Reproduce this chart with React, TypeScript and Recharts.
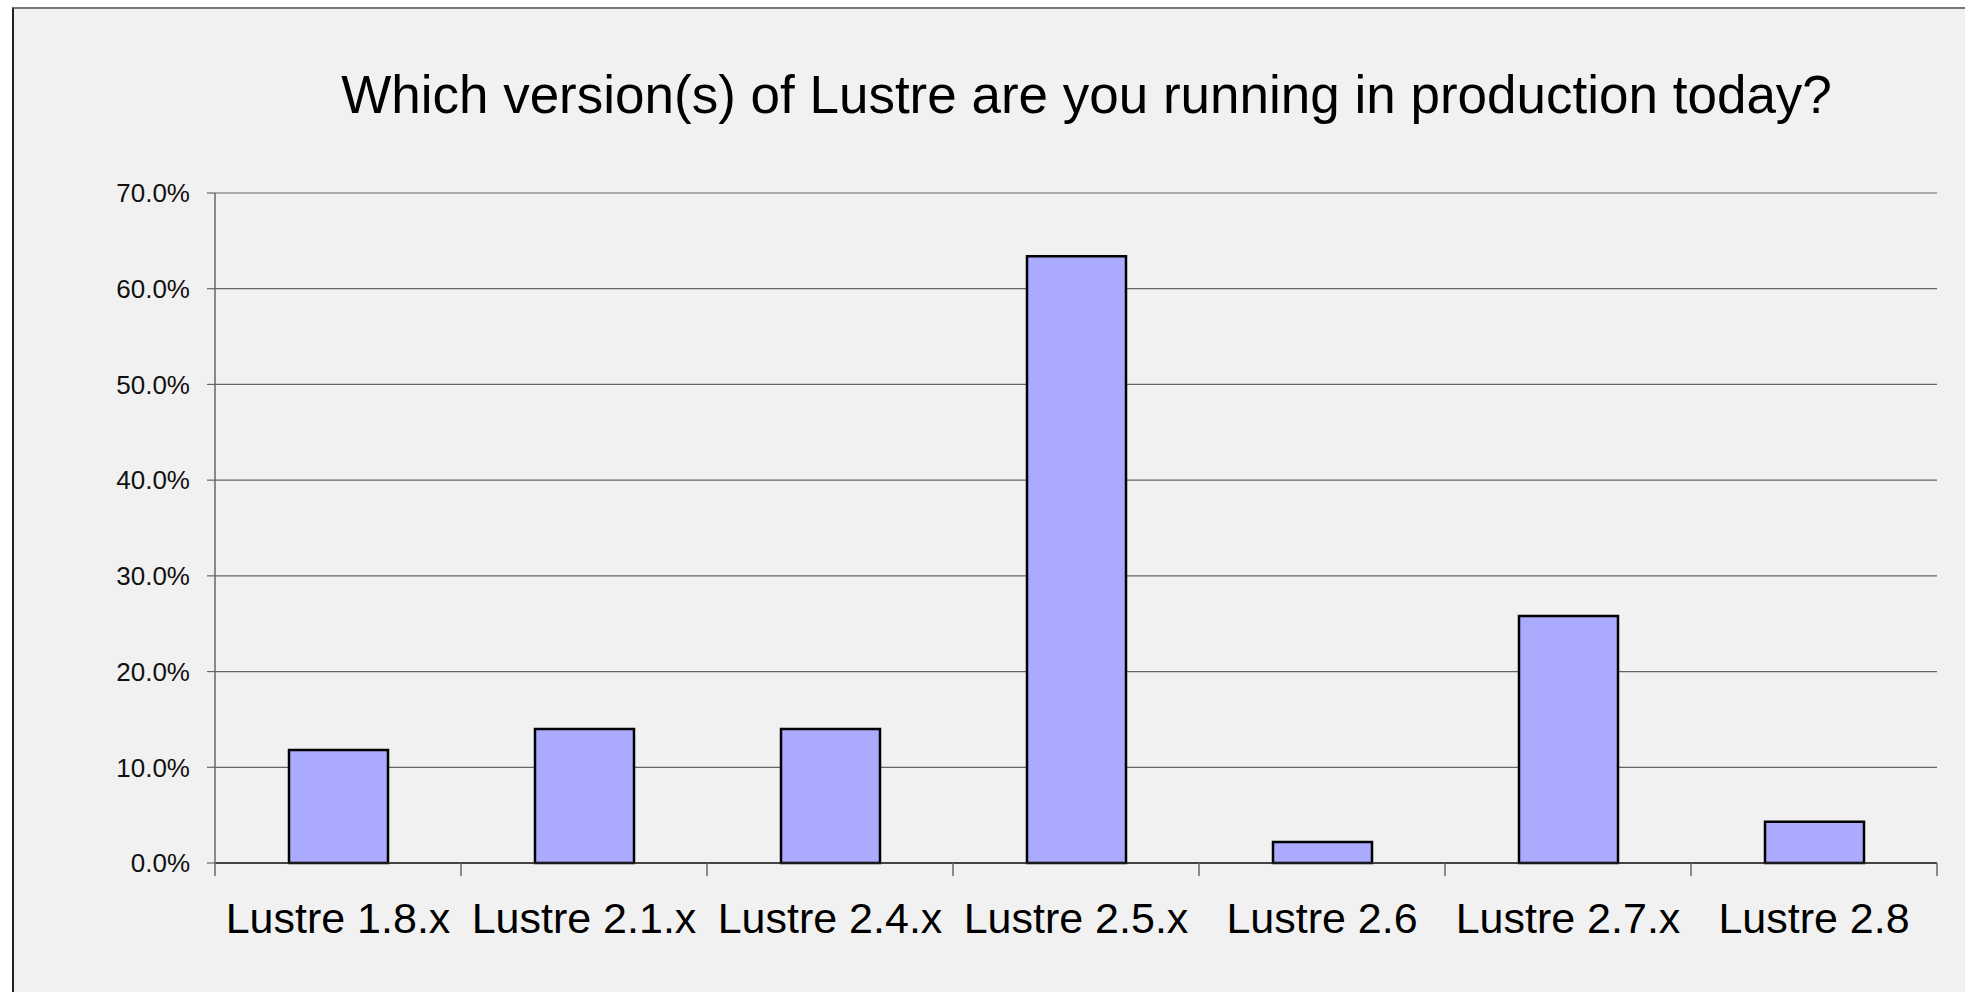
import React from 'react';
import { BarChart, Bar, XAxis, YAxis, CartesianGrid } from 'recharts';

const CATEGORIES = ['Lustre 1.8.x', 'Lustre 2.1.x', 'Lustre 2.4.x', 'Lustre 2.5.x', 'Lustre 2.6', 'Lustre 2.7.x', 'Lustre 2.8'];
const SHARE = [11.8, 14.0, 14.0, 63.4, 2.2, 25.8, 4.3];
const Y_TICKS = [0, 10, 20, 30, 40, 50, 60, 70];
const TITLE = 'Which version(s) of Lustre are you running in production today?';

const W = 1965;
const H = 992;
const PLOT_LEFT = 215;
const PLOT_RIGHT = 1937;
const BAND = (PLOT_RIGHT - PLOT_LEFT) / CATEGORIES.length;
const FONT = '"Liberation Sans", Arial, Helvetica, sans-serif';

const data = CATEGORIES.map((name, i) => ({ name, share: SHARE[i] }));

function CategoryTick(props: any) {
  const { x, y, payload, index } = props;
  const top = y - 13;
  const last = index === CATEGORIES.length - 1;
  return (
    <g>
      <line x1={x - BAND / 2} y1={top} x2={x - BAND / 2} y2={y} stroke="#666" strokeWidth={1.5} />
      {last && <line x1={x + BAND / 2} y1={top} x2={x + BAND / 2} y2={y} stroke="#666" strokeWidth={1.5} />}
      <text x={x} y={y + 57} textAnchor="middle" fontFamily={FONT} fontSize={43} fill="#000">
        {payload.value}
      </text>
    </g>
  );
}

export default function App() {
  return (
    <div style={{ position: 'fixed', left: 0, top: 0, width: W, height: H, background: '#fff', overflow: 'hidden' }}>
      <div
        style={{
          position: 'absolute',
          left: 12,
          top: 7,
          width: W,
          height: H,
          background: '#f1f1f1',
          borderTop: '2px solid #777',
          borderLeft: '2px solid #222',
        }}
      />
      <div
        style={{
          position: 'absolute',
          left: 0,
          top: 68,
          width: 2173,
          textAlign: 'center',
          fontFamily: FONT,
          fontSize: 53,
          lineHeight: '53px',
          color: '#000',
          whiteSpace: 'nowrap',
        }}
      >
        {TITLE}
      </div>
      <div style={{ position: 'absolute', left: 0, top: 0 }}>
        <BarChart width={W} height={H} data={data} margin={{ top: 193, right: W - PLOT_RIGHT, left: 0, bottom: 49 }}>
          <CartesianGrid vertical={false} stroke="#666" strokeWidth={1.2} />
          <XAxis
            dataKey="name"
            height={80}
            tickSize={13}
            tickMargin={0}
            tickLine={false}
            axisLine={{ stroke: '#222', strokeWidth: 1.5 }}
            tick={<CategoryTick />}
            interval={0}
          />
          <YAxis
            width={PLOT_LEFT}
            domain={[0, 70]}
            ticks={Y_TICKS}
            interval={0}
            tickSize={8}
            tickMargin={17}
            tickFormatter={(v: number) => `${v.toFixed(1)}%`}
            axisLine={{ stroke: '#666', strokeWidth: 1.5 }}
            tickLine={{ stroke: '#666', strokeWidth: 1.2 }}
            tick={{ fontFamily: FONT, fontSize: 26, fill: '#111' }}
          />
          <Bar dataKey="share" fill="#aaaaff" stroke="#000" strokeWidth={2.5} barSize={99} isAnimationActive={false} />
        </BarChart>
      </div>
    </div>
  );
}
